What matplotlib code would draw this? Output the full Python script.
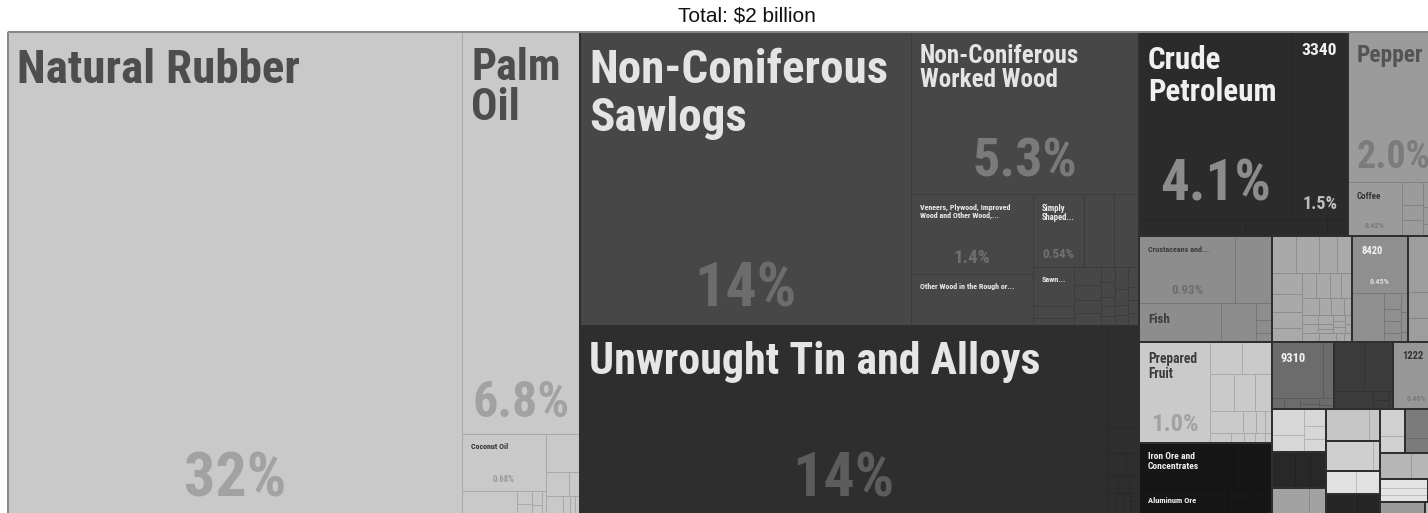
import matplotlib
matplotlib.use("Agg")
import matplotlib.pyplot as plt
from matplotlib import font_manager as fm
from matplotlib.patches import Rectangle
from matplotlib.colors import to_rgb

TITLE = "Total: $2 billion"

# named products and their share of total exports (%)
products = [
    "Natural Rubber", "Palm\nOil", "Coconut Oil",
    "Non-Coniferous\nSawlogs", "Non-Coniferous\nWorked Wood",
    "Veneers, Plywood, Improved\nWood and Other Wood,...", "Other Wood in the Rough or...",
    "Simply\nShaped...", "Sawn...",
    "Unwrought Tin and Alloys",
    "Crude\nPetroleum", "3340", "Pepper", "Coffee",
    "Crustaceans and...", "Fish", "Prepared\nFruit",
    "Iron Ore and\nConcentrates", "Aluminum Ore",
    "8420", "9310", "1222",
]
shares = [
    31.7, 6.84, 0.68,
    14.0, 5.34,
    1.40, 0.92,
    0.54, 0.23,
    14.4,
    4.14, 1.50, 2.00, 0.42,
    0.93, 0.46, 1.04,
    0.61, 0.36,
    0.45, 0.42, 0.46,
]
# products shown with a percentage
with_pct = ["Natural Rubber", "Palm\nOil", "Coconut Oil", "Non-Coniferous\nSawlogs",
            "Non-Coniferous\nWorked Wood", "Veneers, Plywood, Improved\nWood and Other Wood,...",
            "Simply\nShaped...", "Unwrought Tin and Alloys", "Crude\nPetroleum", "3340",
            "Pepper", "Coffee", "Crustaceans and...", "Prepared\nFruit", "8420", "1222"]

# small unlabelled products, in the order they are laid out
palm_minor = [0.2, 0.03, 0.025, 0.02, 0.015, 0.015, 0.19, 0.08, 0.04, 0.05, 0.02, 0.015, 0.015]
wood_minor = [0.31, 0.26, 0.07, 0.05, 0.07, 0.06, 0.05, 0.05, 0.03, 0.03, 0.02, 0.02, 0.02,
              0.04, 0.03, 0.02, 0.02, 0.03, 0.02, 0.02, 0.02]
metal_minor = [0.47, 0.12, 0.06, 0.04, 0.03, 0.03, 0.025, 0.03, 0.025, 0.02, 0.01, 0.01, 0.01]
fuel_minor = [0.26, 0.20, 0.05]
spice_minor = [0.07, 0.05, 0.05, 0.06, 0.04, 0.03]
fish_minor = [0.35, 0.19, 0.04, 0.03, 0.02]
fruit_minor = [0.15, 0.14, 0.13, 0.11, 0.09, 0.10, 0.04, 0.03, 0.02, 0.03, 0.02, 0.015, 0.015, 0.01]
ore_minor = [0.25, 0.05, 0.04, 0.03, 0.03, 0.03]
misc_minor = [
    0.13, 0.12, 0.10, 0.08, 0.09, 0.08, 0.07, 0.06, 0.05, 0.05, 0.04, 0.04,
    0.04, 0.03, 0.03, 0.02, 0.02, 0.02, 0.02, 0.01, 0.01, 0.01, 0.01, 0.01,
    0.01, 0.01, 0.02, 0.02, 0.01, 0.01,
    0.22, 0.04, 0.03, 0.03, 0.02, 0.02, 0.02, 0.01,
    0.26, 0.12, 0.11,
    0.09, 0.02, 0.025, 0.015, 0.015, 0.015, 0.01,
    0.21, 0.21, 0.1, 0.02, 0.02, 0.01,
    0.12, 0.08, 0.05, 0.04, 0.04, 0.12, 0.08, 0.08, 0.15, 0.07,
    0.2, 0.05, 0.2, 0.03, 0.1, 0.08, 0.1, 0.07,
    0.1, 0.06, 0.1, 0.05, 0.07, 0.12, 0.07, 0.04, 0.06, 0.05, 0.05, 0.04, 0.09, 0.03,
]

SHARE = dict(zip(products, shares))
S = "*"  # next small product from the current list

# slicing tree: "h" splits left-to-right, "v" top-to-bottom, "g" = coloured group
tree = ("h", [
    ("g", "#c9c9c9", ("h", [
        "Natural Rubber",
        ("v", ["Palm\nOil", ("h", [
            ("v", ["Coconut Oil", ("h", [S, ("v", [S, S]), ("v", [S, S]), S])]),
            ("v", [S, ("h", [S, S]), ("h", [S, S, S, S])]),
        ])]),
    ]), palm_minor),
    ("v", [
        ("g", "#474747", ("h", [
            "Non-Coniferous\nSawlogs",
            ("v", ["Non-Coniferous\nWorked Wood", ("h", [
                ("v", ["Veneers, Plywood, Improved\nWood and Other Wood,...",
                       "Other Wood in the Rough or..."]),
                ("v", [("h", ["Simply\nShaped...", S, S]),
                       ("h", [("v", ["Sawn...", S, S]), ("v", [S, S, S, S]),
                              ("h", [("v", [S] * 5), ("v", [S] * 4), ("v", [S] * 4)])])]),
            ])]),
        ]), wood_minor),
        ("g", "#2e2e2e", ("h", [
            "Unwrought Tin and Alloys",
            ("v", [S, S, ("h", [S, S]), ("h", [S, S, S]), ("h", [S, S, S, ("v", [S, S, S])])]),
        ]), metal_minor),
    ]),
    ("v", [
        ("h", [
            ("g", "#2b2b2b", ("v", [("h", ["Crude\nPetroleum", "3340"]), ("h", [S, S, S])]), fuel_minor),
            ("g", "#9b9b9b", ("v", ["Pepper", ("h", ["Coffee", ("v", [S, S, S]), ("v", [S, S, S])])]),
             spice_minor),
        ]),
        ("h", [
            ("v", [
                ("g", "#8d8d8d", ("v", [("h", ["Crustaceans and...", S]),
                                        ("h", ["Fish", S, ("v", [S, S, S])])]), fish_minor),
                ("g", "#cacaca", ("h", ["Prepared\nFruit", ("v", [
                    ("h", [S, S]), ("h", [S, S, S]), ("h", [S, S, S, S]), ("h", [S] * 5)])]),
                 fruit_minor),
                ("g", "#161616", ("v", [("h", ["Iron Ore and\nConcentrates", S]),
                                        ("h", ["Aluminum Ore", ("v", [S, S]), ("v", [S, S]), S])]),
                 ore_minor),
            ]),
            ("m", misc_minor, ("v", [
                ("h", [
                    ("g", "#a9a9a9", ("v", [
                        ("h", [S] * 4),
                        ("h", [("v", [S] * 4),
                               ("v", [("h", [S] * 4), ("h", [S] * 4),
                                      ("h", [("v", [S] * 2), ("v", [S] * 3), ("v", [S] * 3), ("v", [S] * 2)]),
                                      ("h", [S] * 4)])]),
                    ])),
                    ("g", "#8f8f8f", ("v", ["8420", ("h", [S, ("v", [S] * 4), ("v", [S] * 3)])])),
                    ("g", "#9d9d9d", ("v", [S] * 3)),
                ]),
                ("h", [
                    ("g", "#6c6c6c", ("v", [("h", ["9310", S]),
                                            ("h", [S, S, ("v", [S, S]), ("v", [S, S])])])),
                    ("g", "#3c3c3c", ("v", [("h", [S, S]), ("h", [S, ("v", [S, S]), S])])),
                    ("g", "#979797", "1222"),
                ]),
                ("h", [
                    ("v", [("g", "#d7d7d7", ("h", [("v", [S, S]), ("v", [S, S, S])])),
                           ("g", "#282828", ("h", [S, S, S])),
                           ("g", "#a2a2a2", ("h", [S, S]))]),
                    ("v", [("g", "#c6c6c6", ("h", [S, S])), ("g", "#cfcfcf", ("h", [S, S])),
                           ("g", "#e1e1e1", ("h", [S, S])), ("g", "#262626", ("h", [S, S]))]),
                    ("v", [("h", [("g", "#d0d0d0", ("v", [S, S])), ("g", "#7b7b7b", ("v", [S, S])),
                                  ("g", "#c9c9c9", S)]),
                           ("h", [("g", "#b6b6b6", ("h", [S, S])), ("g", "#2b2b2b", S)]),
                           ("h", [("g", "#e3e3e3", ("v", [S, S, S])), ("g", "#1f1f1f", S)]),
                           ("h", [("g", "#9b9b9b", S), ("g", "#bcbcbc", S)])]),
                ]),
            ])),
        ]),
    ]),
])

# label styles: (size in px, colour)
name_style = {
    "Natural Rubber": (47, "#4d4d4d"), "Palm\nOil": (44, "#4d4d4d"), "Coconut Oil": (8, "#333333"),
    "Non-Coniferous\nSawlogs": (47, "#e4e4e4"), "Non-Coniferous\nWorked Wood": (25, "#e4e4e4"),
    "Veneers, Plywood, Improved\nWood and Other Wood,...": (8, "#ececec"),
    "Other Wood in the Rough or...": (8, "#ececec"), "Simply\nShaped...": (8.7, "#ececec"),
    "Sawn...": (8.2, "#ececec"), "Unwrought Tin and Alloys": (44, "#e6e6e6"),
    "Crude\nPetroleum": (31, "#f0f0f0"), "3340": (17.5, "#f0f0f0"), "Pepper": (23.5, "#545454"),
    "Coffee": (9, "#333333"), "Crustaceans and...": (8.2, "#3c3c3c"), "Fish": (13, "#3c3c3c"),
    "Prepared\nFruit": (13.5, "#3c3c3c"), "Iron Ore and\nConcentrates": (9.5, "#f0f0f0"),
    "Aluminum Ore": (8.5, "#f0f0f0"), "8420": (10.5, "#f4f4f4"), "9310": (12.5, "#f4f4f4"),
    "1222": (10.5, "#333333"),
}
pct_style = {
    "Natural Rubber": (62, "#a2a2a2"), "Palm\nOil": (50, "#a2a2a2"), "Coconut Oil": (9, "#9a9a9a"),
    "Non-Coniferous\nSawlogs": (62, "#6c6c6c"), "Non-Coniferous\nWorked Wood": (54, "#7a7a7a"),
    "Veneers, Plywood, Improved\nWood and Other Wood,...": (19, "#6e6e6e"),
    "Simply\nShaped...": (13, "#707070"), "Unwrought Tin and Alloys": (62, "#5c5c5c"),
    "Crude\nPetroleum": (57, "#8c8c8c"), "3340": (18, "#bdbdbd"), "Pepper": (38, "#7b7b7b"),
    "Coffee": (8, "#7a7a7a"), "Crustaceans and...": (13, "#6e6e6e"), "Prepared\nFruit": (24.5, "#a2a2a2"),
    "8420": (8, "#dedede"), "1222": (8, "#7a7a7a"),
}
line_gap = {"Palm\nOil": 0.93, "Non-Coniferous\nSawlogs": 1.12, "Crude\nPetroleum": 1.1,
            "Non-Coniferous\nWorked Wood": 1.02}

# condensed bold face for the box labels, whichever is installed
installed = {f.name for f in fm.fontManager.ttflist}
LABEL_FONT = [f for f in ["Roboto Condensed", "Archivo Narrow", "PT Sans Narrow",
                          "Liberation Sans Narrow", "DejaVu Sans Condensed"] if f in installed]
LABEL_FONT = LABEL_FONT[:1] + ["DejaVu Sans"]
PX = 0.72  # points per pixel at 100 dpi


def resolve(node, src=None, fill=None):
    if isinstance(node, str):
        if node == S:
            return {"value": next(src), "name": None, "fill": fill}
        return {"value": SHARE[node], "name": node, "fill": fill}
    tag = node[0]
    if tag == "g":
        f, child = node[1], node[2]
        if len(node) > 3:
            src = iter(node[3])
        kid = resolve(child, src, f)
        return {"value": kid["value"], "group": f, "kids": [kid]}
    if tag == "m":
        return resolve(node[2], iter(node[1]), fill)
    kids = [resolve(c, src, fill) for c in node[1]]
    return {"value": sum(k["value"] for k in kids), "dir": tag, "kids": kids}


def place(n, x, y, w, h, leaves, groups):
    if "kids" not in n:
        leaves.append((n, x, y, w, h))
        return
    if "group" in n:
        groups.append((x, y, w, h))
        place(n["kids"][0], x, y, w, h, leaves, groups)
        return
    for k in n["kids"]:
        f = k["value"] / n["value"]
        if n["dir"] == "h":
            place(k, x, y, w * f, h, leaves, groups)
            x += w * f
        else:
            place(k, x, y, w, h * f, leaves, groups)
            y += h * f


def fmt_pct(v):
    if v >= 10:
        return f"{v:.0f}%"
    if v >= 1:
        return f"{v:.1f}%"
    return f"{v:.2f}%"


def darker(c, k):
    r, g, b = to_rgb(c)
    return (r * k, g * k, b * k)


root = resolve(tree)
leaves, groups = [], []
X0, Y0, W, H = 8, 32, 1432, 484
place(root, X0, Y0, W, H, leaves, groups)

fig = plt.figure(figsize=(14.28, 5.13), dpi=100)
ax = fig.add_axes([0, 0, 1, 1])
ax.set_xlim(0, 1428)
ax.set_ylim(513, 0)
ax.set_axis_off()

for n, x, y, w, h in leaves:
    ax.add_patch(Rectangle((x, y), w, h, facecolor=n["fill"],
                           edgecolor=darker(n["fill"], 0.84), linewidth=1.0 * PX))
for x, y, w, h in groups:
    ax.add_patch(Rectangle((x, y), w, h, facecolor="none", edgecolor="#2f2f2f", linewidth=2.0 * PX))
# outer frame along the top and left
ax.plot([X0, X0, X0 + W], [Y0 + H, Y0, Y0], color="#a6a6a6", lw=1.5 * PX)

for n, x, y, w, h in leaves:
    name = n["name"]
    if name is None:
        continue
    size, col = name_style[name]
    ax.text(x + 9, y + 8 + 0.16 * size, name, fontsize=size * PX, color=col,
            family=LABEL_FONT, weight="bold", ha="left", va="top",
            linespacing=line_gap.get(name, 1.08))
    if name in with_pct:
        psize, pcol = pct_style[name]
        ax.text(x + w / 2, y + h - (7 + 0.2 * psize), fmt_pct(n["value"]), fontsize=psize * PX,
                color=pcol, family=LABEL_FONT, weight="bold", ha="center", va="baseline")

ax.text(747, 16, TITLE, fontsize=15, family=["Liberation Sans", "DejaVu Sans"],
        ha="center", va="center", color="#111111")

fig.savefig("out.png", dpi=100)
